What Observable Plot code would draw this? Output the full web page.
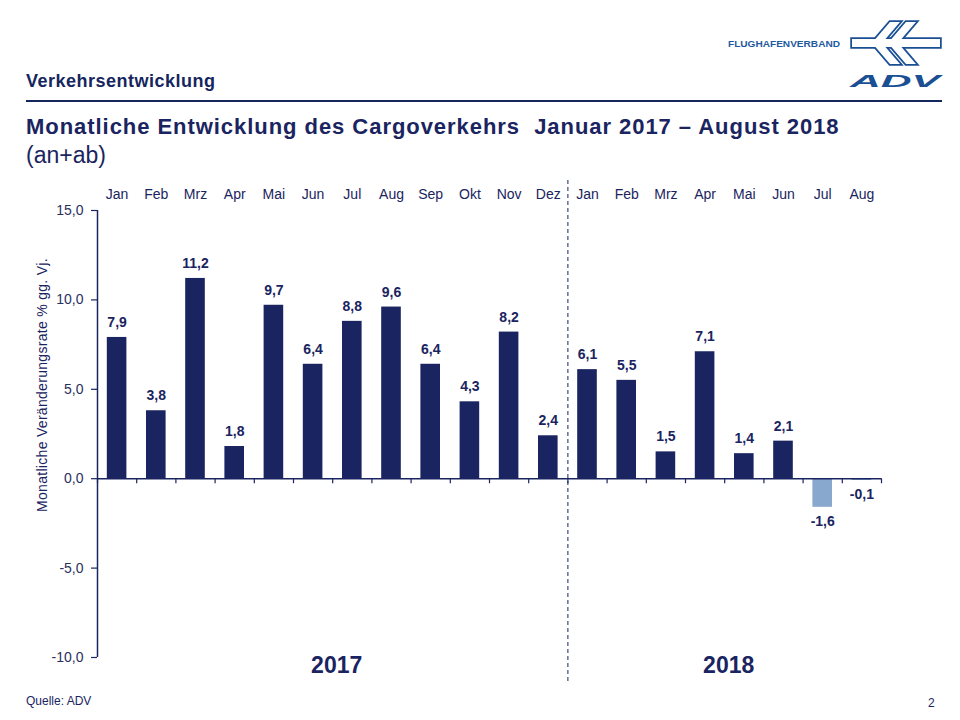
<!DOCTYPE html>
<html>
<head>
<meta charset="utf-8">
<script src="https://cdn.jsdelivr.net/npm/d3@7"></script>
<script src="https://cdn.jsdelivr.net/npm/@observablehq/plot@0.6"></script>
<style>
  html, body { margin: 0; padding: 0; background: #fff; }
  #page { position: relative; width: 960px; height: 720px; overflow: hidden; font-family: "Liberation Sans", Arial, sans-serif; color: #1a2460; }
  #chart { position: absolute; left: 0; top: 0; }
  .abs { position: absolute; white-space: pre; line-height: 1; }
  #section { left: 26px; top: 72px; font-size: 18px; letter-spacing: 0.5px; font-weight: bold; color: #15265e; }
  #rule { left: 26px; top: 100px; width: 916px; height: 2px; background: #15265e; }
  #title { left: 26px; top: 116px; font-size: 22px; letter-spacing: 0.95px; font-weight: bold; color: #1a2460; }
  #subtitle { left: 26px; top: 144px; font-size: 23px; color: #1a2460; }
  #ylabel { left: 42px; top: 385px; font-size: 14px; letter-spacing: 0.3px; color: #1a2460; transform: translate(-50%, -50%) rotate(-90deg); }
  #source { left: 26px; top: 695px; font-size: 12px; color: #1a2460; }
  #pageno { left: 928px; top: 697px; font-size: 12px; color: #1a2460; }
  #logo { left: 720px; top: 15px; }
</style>
</head>
<body>
<div id="page">
  <div id="chart"></div>
  <div class="abs" id="section">Verkehrsentwicklung</div>
  <div class="abs" id="rule"></div>
  <div class="abs" id="title">Monatliche Entwicklung des Cargoverkehrs  Januar 2017 – August 2018</div>
  <div class="abs" id="subtitle">(an+ab)</div>
  <div class="abs" id="ylabel">Monatliche Veränderungsrate % gg. Vj.</div>
  <div class="abs" id="source">Quelle: ADV</div>
  <div class="abs" id="pageno">2</div>
  <svg class="abs" id="logo" width="230" height="80" viewBox="0 0 230 80">
    <text x="8" y="32" font-family="Liberation Sans, Arial, sans-serif" font-size="9.5" font-weight="bold" fill="#1f5aa0" textLength="112" lengthAdjust="spacingAndGlyphs">FLUGHAFENVERBAND</text>
    <g fill="#1a4f94" stroke="#1a4f94" stroke-width="3.5" stroke-linejoin="miter">
      <polygon points="132,24 220,24 220,32 132,32"/>
      <polygon points="170,7 180,7 162,28 180,49 170,49 152,28"/>
      <polygon points="186,7 196,7 178,28 196,49 186,49 168,28"/>
    </g>
    <g fill="#fff">
      <polygon points="132,24 220,24 220,32 132,32"/>
      <polygon points="170,7 180,7 162,28 180,49 170,49 152,28"/>
      <polygon points="186,7 196,7 178,28 196,49 186,49 168,28"/>
    </g>
    <text x="130" y="72" font-family="Liberation Sans, Arial, sans-serif" font-size="16" font-weight="bold" font-style="italic" fill="#1a4f94" textLength="90" lengthAdjust="spacingAndGlyphs">ADV</text>
  </svg>
</div>
<script>
const months = ["Jan","Feb","Mrz","Apr","Mai","Jun","Jul","Aug","Sep","Okt","Nov","Dez","Jan","Feb","Mrz","Apr","Mai","Jun","Jul","Aug"];
const values = [7.9,3.8,11.2,1.8,9.7,6.4,8.8,9.6,6.4,4.3,8.2,2.4,6.1,5.5,1.5,7.1,1.4,2.1,-1.6,-0.1];
const monthYear = ["2017","2017","2017","2017","2017","2017","2017","2017","2017","2017","2017","2017","2018","2018","2018","2018","2018","2018","2018","2018"];
const years = ["2017","2018"];
const yTicks = [-10,-5,0,5,10,15];

const navy = "#1a2460";
const lightBlue = "#88a8cd";

const data = months.map((m, i) => ({i, month: m, value: values[i], year: monthYear[i]}));
const yearData = years.map(y => {
  const idx = data.filter(d => d.year === y).map(d => d.i);
  return {year: y, center: (d3.min(idx) + d3.max(idx) + 1) / 2};
});
const boundaries = d3.range(0, months.length + 1);
const yearSplit = d3.min(data.filter(d => d.year === years[1]), d => d.i);
const fmt = v => v.toFixed(1).replace(".", ",");

const plot = Plot.plot({
  width: 960,
  height: 720,
  marginLeft: 97,
  marginRight: 79,
  marginTop: 210,
  marginBottom: 63,
  style: {fontFamily: "Liberation Sans, Arial, sans-serif", fontSize: "14px", color: navy, background: "transparent"},
  x: {domain: [0, months.length], axis: null},
  y: {domain: [-10, 15], axis: null},
  marks: [
    Plot.rectY(data, {
      x1: d => d.i + 0.25, x2: d => d.i + 0.75, y1: 0, y2: "value",
      fill: d => d.value < 0 ? lightBlue : navy
    }),
    Plot.ruleX([0], {y1: -10, y2: 15, stroke: navy, strokeWidth: 1.5}),
    Plot.ruleY([0], {stroke: navy, strokeWidth: 1.5}),
    Plot.ruleX(boundaries, {y1: 0, y2: 0, insetBottom: -5, stroke: navy, strokeWidth: 1.2}),
    Plot.ruleY(yTicks, {x1: 0, x2: 0, insetLeft: -6, stroke: navy, strokeWidth: 1.2}),
    Plot.text(yTicks, {x: 0, y: d => d, text: fmt, textAnchor: "end", dx: -14, fill: "#2a3060", fontSize: 14}),
    Plot.ruleX([yearSplit], {y1: 15, y2: -10, insetTop: -30, insetBottom: -24, stroke: navy, strokeWidth: 1, strokeDasharray: "4,3"}),
    Plot.text(data, {x: d => d.i + 0.5, text: "month", frameAnchor: "top", dy: -21, fill: navy, fontSize: 14}),
    Plot.text(data.filter(d => d.value >= 0), {x: d => d.i + 0.5, y: "value", text: d => fmt(d.value), dy: -15, fill: navy, fontWeight: "bold", fontSize: 14}),
    Plot.text(data.filter(d => d.value < 0), {x: d => d.i + 0.5, y: "value", text: d => fmt(d.value), dy: 14, fill: navy, fontWeight: "bold", fontSize: 14}),
    Plot.text(yearData, {x: "center", text: "year", frameAnchor: "bottom", dy: 15, dx: 4, fill: navy, fontWeight: "bold", fontSize: 23})
  ]
});
document.getElementById("chart").appendChild(plot);
</script>
</body>
</html>
